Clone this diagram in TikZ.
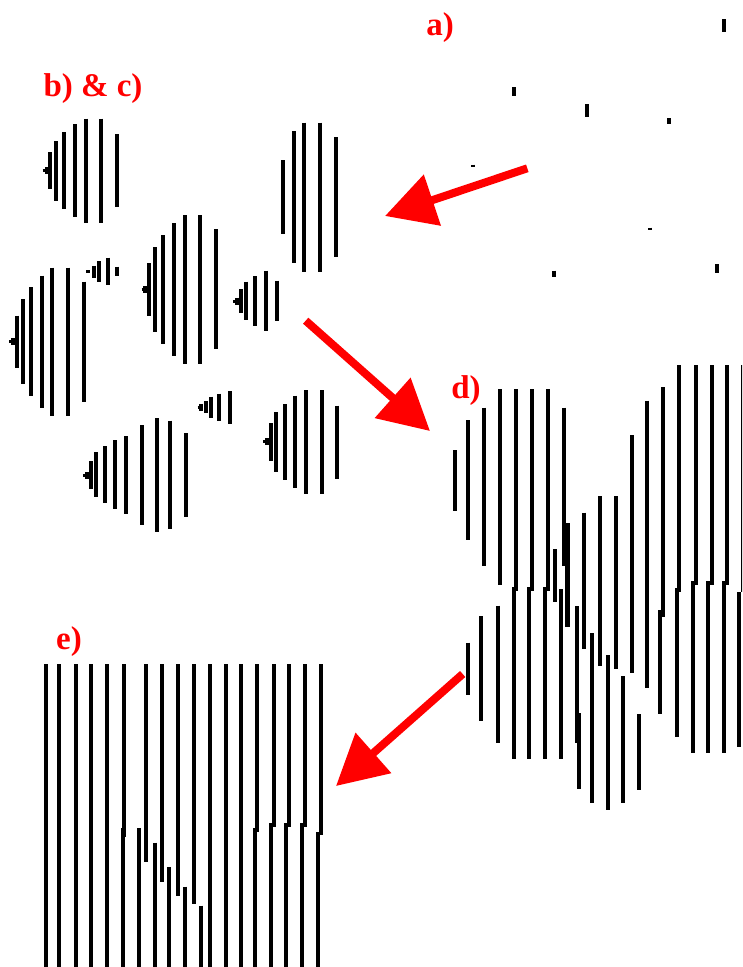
\documentclass[tikz,border=0pt]{standalone}
\usepackage{fontspec}
\setmainfont{Liberation Serif}
\usetikzlibrary{arrows.meta}
\tikzset{
  bar/.style={line width=4.3pt, black},
  tick/.style={line width=3pt, black},
  redarrow/.style={red, line width=8pt, -{Triangle[length=50pt,width=52pt]}},
  lbl/.style={text=red, font=\fontsize{33}{33}\selectfont\bfseries, inner sep=0pt, anchor=base}
}
\begin{document}
\begin{tikzpicture}[x=1pt,y=-1pt]
\useasboundingbox (0,0) rectangle (742,967);
\clip (0,0) rectangle (742,967);
\fill[white] (0,0) rectangle (742,967);

% labels
\node[lbl] (la) at (440,35) {a)};
\node[lbl] (lb) at (93,96) {b) \& c)};
\node[lbl] (ld) at (466,398) {d)};
\node[lbl] (le) at (69,649) {e)};

% a) scattered dots
\foreach \x/\a/\b in {724.3/19/32, 514.3/87.3/96, 587/104.3/117.3, 668.7/118.3/124.3,
  472.7/164.5/167, 650.3/227.5/230.3, 553.7/270.7/277.3, 717/264.3/272.7}
  \draw[bar] (\x,\a) -- (\x,\b);

% b) & c) clusters: ticks
\foreach \xa/\xb/\y in {42.7/50/170, 9.3/16.7/341.7, 86/90/271.7, 141.7/148.3/289.3,
  233.3/240/301, 197.7/203.3/407.3, 83.3/90.7/475, 263.3/270/441.7}
  \draw[tick] (\xa,\y) -- (\xb,\y);
\foreach \x/\y in {47/170, 13/341.7, 145.5/289.3, 237/301, 201/407.3, 87.5/475, 267/441.7}
  \draw[bar] (\x,\y-3.5) -- (\x,\y+3.5);

% cluster bars
\foreach \x/\a/\b in {
  50/152/189, 55.7/141/201, 64.3/132.3/209, 75/124.3/216.7, 86/118.7/222.7, 101.3/118.7/222.7, 117/134/207.3,
  283.3/160.3/234, 293.7/131/263.3, 304.3/122.7/271.7, 320/122.7/271.7, 335.7/137/257.3,
  16.7/315.7/368.3, 22.7/299.3/384.3, 31.3/287.3/396.3, 41.7/275.7/407.7, 52.3/267.7/416, 68.3/267.7/416, 84/281.7/402,
  94/265.7/278.3, 98.7/261/282.3, 107.7/257.7/285.3, 117/266.7/276,
  149.3/263.3/315.7, 154.7/247/332, 163.3/235/344, 174/223.3/356, 185/215/364, 200.3/215/364, 216/229.3/349.3,
  240.7/289/312.7, 246.3/281.7/320, 255/276/325.7, 265.7/270.7/330.7, 277/280.7/321,
  205.7/401/413.3, 210.7/396.7/418.3, 219/393.7/421.3, 229.7/391/424.3,
  90.7/461/489, 96/452.3/496.7, 104.7/446/502.7, 115.3/440.3/509.3, 126.3/436/513.7, 142/425.3/524.7, 157.3/418.3/531.7, 170/420.7/529.3, 185.7/433.3/516.7,
  270.7/423.3/460.7, 276/412.3/471.7, 284.7/404/480, 295.3/395.7/488.3, 306.3/390/494.3, 321.7/390/494.3, 337.3/405.7/478.7}
  \draw[bar] (\x,\a) -- (\x,\b);

% d) overlapping clusters
\foreach \x/\a/\b in {
  454.7/450/510.7, 467.7/420/540, 484/407.7/566, 500/389/585,
  563.7/407.7/565.7, 567.5/523/627, 554.7/549.3/601.7, 561/589.3/759,
  577.3/606/742.7, 578.7/713/789, 584/512.7/649.3, 591.7/633.3/803.3,
  600/496/666, 607.7/655/810, 615.7/496/669.3, 623.3/676/803.3,
  632/435/673.3, 639.3/714.3/790, 647.3/400.7/688.3, 660/610/714, 663.3/387.3/616.7,
  739.3/592/747, 743/365/592,
  467.7/642.7/695, 481/616/720.7, 497.7/605.7/742.7}
  \draw[bar] (\x,\a) -- (\x,\b);
\foreach \xa/\ya/\yj/\xb/\yb in {
  516/389/589.3/513.7/759, 531.7/389/589.3/529.3/759, 547.7/389/589.3/545.3/759,
  679.3/365/590/676.7/736.7, 695.7/365/583.3/692.7/752.7, 711.7/365/583.3/708.3/752.7, 727.3/365/583.3/724.3/752.7}
  \draw[bar] (\xa,\ya) -- (\xa,\yj) -- (\xb,\yj) -- (\xb,\yb);

% e) merged pattern
\foreach \x/\a/\b in {
  45.7/664/970, 59.3/664/970, 75.7/664/970, 91/664/970, 107.3/664/970,
  124/664/836.7, 122.7/828.3/970, 139/828/970, 145.7/664/861.7, 155/842.7/970,
  162.3/664/881.7, 169.3/867.3/970, 178/664/896, 185.3/886.7/970, 193.7/664/904, 201.3/905.7/970,
  209.7/664/970, 225.7/664/970, 241.3/664/970,
  321.3/664/835, 317.7/832/970}
  \draw[bar] (\x,\a) -- (\x,\b);
\foreach \xa/\yj/\xb in {257.3/830/254.7, 273.7/825/270.7, 289.3/825/286, 305.3/825/302}
  \draw[bar] (\xa,664) -- (\xa,\yj) -- (\xb,\yj) -- (\xb,970);

% arrows
\coordinate (t1) at (527.3,168.3);
\coordinate (h1) at (385,216);
\coordinate (t2) at (305.7,320.7);
\coordinate (h2) at (430,431);
\coordinate (t3) at (462.7,674);
\coordinate (h3) at (336,786);
\draw[redarrow] (t1) -- (h1);
\draw[redarrow] (t2) -- (h2);
\draw[redarrow] (t3) -- (h3);
\end{tikzpicture}
\end{document}
